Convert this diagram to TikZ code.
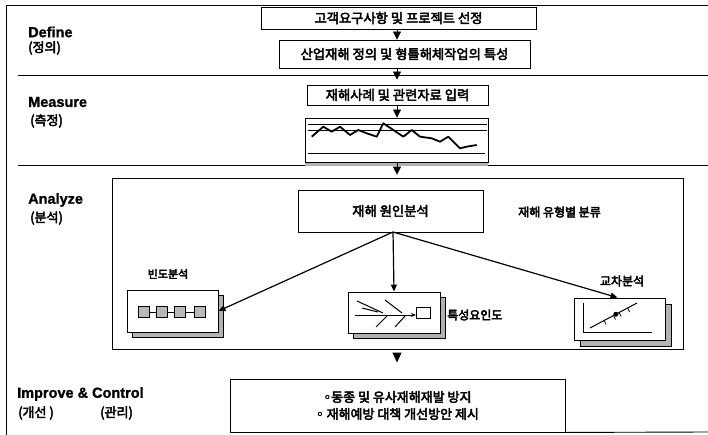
\documentclass[tikz,border=0pt]{standalone}
\usepackage{fontspec}
\setmainfont{Liberation Sans}[BoldFeatures={FakeBold=1.2}]
\newfontfamily\kr{Noto Sans CJK KR}
\newfontfamily\dv{DejaVu Sans}
\newcommand\hv[1]{\special{pdf:literal direct 2 Tr 0.45 w}#1\special{pdf:literal direct 0 Tr}}
\usetikzlibrary{arrows.meta,calc}
\begin{document}
\begin{tikzpicture}[x=1pt,y=-1pt,
  box/.style={draw,line width=0.9pt,inner sep=0pt,font=\kr\fontsize{13.3}{16}\selectfont},
  sbox/.style={draw,line width=0.9pt,inner sep=0pt,fill=white},
  shade/.style={fill=gray!60,draw=black,line width=0.4pt},
  flow/.style={line width=0.9pt,-{Triangle[length=8pt,width=8pt]}},
  tiponly/.style={line width=0.9pt,-{Triangle[length=10pt,width=9pt]}},
  ray/.style={line width=1.2pt,-{Triangle[length=7pt,width=6pt]}},
  head/.style={anchor=west,font=\bfseries\fontsize{14.5}{16}\selectfont,inner sep=0pt},
  khead/.style={anchor=west,font=\kr\fontsize{13}{15}\selectfont,inner sep=0pt},
  lbl/.style={font=\kr\fontsize{12}{14}\selectfont,inner sep=0pt},
  rule/.style={line width=0.9pt}
]
\useasboundingbox (0,0) rectangle (708,435);
\fill[white] (0,0) rectangle (708,435);

% frame and separators
\draw[rule] (6,435) -- (6,5) -- (708,5);
\draw[rule] (18,75) -- (708,75);
\draw[rule] (18,165) -- (708,165);

% headings
\node[head] (hdef) at (28,32) {Define};
\node[khead] (kdef) at (28,48) {\hv{(정의)}};
\node[head] (hmea) at (28,102) {Measure};
\node[khead] (kmea) at (30,121) {\hv{(측정)}};
\node[head] (hana) at (28,200) {Analyze};
\node[khead] (kana) at (30,218) {\hv{(분석)}};
\node[head] (himp) at (17,394) {Improve \& Control};
\node[khead] (kimp) at (18,413) {\hv{(개선 )}};
\node[khead] (kcon) at (100,413) {\hv{(관리)}};

\coordinate (c) at (397,0);

% define / measure boxes
\node[box,minimum width=275pt,minimum height=22pt] (b1) at (398.5,18) {\hv{고객요구사항 및 프로젝트 선정}};
\node[box,minimum width=251pt,minimum height=28pt] (b2) at (404.5,54) {\hv{산업재해 정의 및 형틀해체작업의 특성}};
\node[box,minimum width=181pt,minimum height=20pt] (b3) at (397.5,95) {\hv{재해사례 및 관련자료 입력}};
\fill[gray!60] (305,162) rectangle (488,166);
\node[box,fill=white,minimum width=183pt,minimum height=44pt] (chart) at (396.5,140) {};
% chart content
\draw[line width=0.6pt] (308,124) -- (487,124);
\draw[line width=0.6pt] (308,130.7) -- (487,130.7);
\draw[line width=0.8pt] (308,153.3) -- (485,153.3);
\draw[line width=1.8pt,line join=round] (311.7,136.7) -- (323.3,126.7) -- (331.7,131.7) -- (340,126.7) -- (350,135) -- (358.3,130) -- (366.7,133.3) -- (376.7,136.7) -- (383.3,123.3) -- (393.3,130) -- (403.3,136.7) -- (411.7,130) -- (420,136.7) -- (431.7,138.3) -- (440,141.7) -- (448.3,136.7) -- (460,148.3) -- (466.7,146.7) -- (476.7,145);

% analyze region
\node[draw,line width=0.7pt,inner sep=0pt,minimum width=571pt,minimum height=171pt] (ana) at (397.5,263.5) {};
\node[box,line width=0.7pt,minimum width=185pt,minimum height=42pt] (cause) at (390.5,211) {\hv{재해 원인분석}};
\node[lbl,anchor=west] (kind) at (518,212) {\hv{재해 유형별 분류}};

% shadows of the three analysis boxes
\draw[shade] (132,295) rectangle (223.5,337.5);
\draw[shade] (353,297) rectangle (445.5,338.5);
\draw[shade] (580,304) rectangle (671.5,346.5);
\node[sbox,minimum width=91pt,minimum height=42pt] (freq) at (172.5,311) {};
\node[sbox,minimum width=92pt,minimum height=41pt] (fish) at (394,312.5) {};
\node[sbox,minimum width=91pt,minimum height=42pt] (cross) at (619.5,319) {};

\node[lbl,font=\kr\fontsize{11}{13}\selectfont] (lfreq) at (168,274) {\hv{빈도분석}};
\node[lbl,anchor=west] (lfish) at (447,315) {\hv{특성요인도}};
\node[lbl] (lcross) at (622,281) {\hv{교차분석}};

% frequency chain
\draw[line width=1pt] (144,312) -- (200,312);
\foreach \x in {144,162,180,200}
  \draw[line width=0.6pt,fill=gray!55] (\x-5.5,306.5) rectangle (\x+5.5,317.5);

% fishbone
\draw[line width=1pt,-{Stealth[length=5pt,width=4pt]}] (355,315) -- (416,315);
\draw[line width=1pt] (416.7,307) rectangle (430,318.3);
\draw[line width=1pt] (357,301) -- (383,313);
\draw[line width=1pt] (385,300) -- (402,313);
\draw[line width=1pt] (376,327) -- (387,316);
\draw[line width=1pt] (395,327) -- (405,316);
\draw[line width=1pt] (362,308) -- (378,312);

% cross analysis
\draw[line width=0.9pt] (583,303) -- (583,332) -- (652,332);
\draw[line width=1pt] (590,328) -- (637,303);
\foreach \t in {0.3,0.5,0.62,0.8}
  \draw[line width=0.8pt] ($(590,328)!\t!(637,303)$) -- ++(2,4);
\fill ($(590,328)!0.55!(637,303)$) circle (2.5pt);

% rays from cause analysis
\coordinate (cs) at (393,232);
\draw[ray] (cs) -- (freq.east);
\draw[ray] (cs) -- (fish.north);
\draw[ray] (cs) -- ([xshift=-2pt]cross.north);

% improve box
\node[box,minimum width=335pt,minimum height=53pt,align=center,font=\kr\fontsize{13}{17}\selectfont] (imp) at (397.5,405.5) {\hv{{\dv ◦}동종 및 유사재해재발 방지}\\\hv{{\dv ◦} 재해예방 대책 개선방안 제시}};
\draw[rule] (imp.south east) -- (708,432);

% flow arrows
\draw[flow] (b1.south -| c) -- (b2.north -| c);
\draw[flow,shorten >=5pt] (b2.south -| c) -- (b3.north -| c);
\draw[flow] (b3.south -| c) -- (chart.north -| c);
\draw[flow,shorten >=3pt] (chart.south -| c) -- (ana.north -| c);
\draw[tiponly,shorten <=4pt,shorten >=16pt] (ana.south -| c) -- (imp.north -| c);
\end{tikzpicture}
\end{document}
